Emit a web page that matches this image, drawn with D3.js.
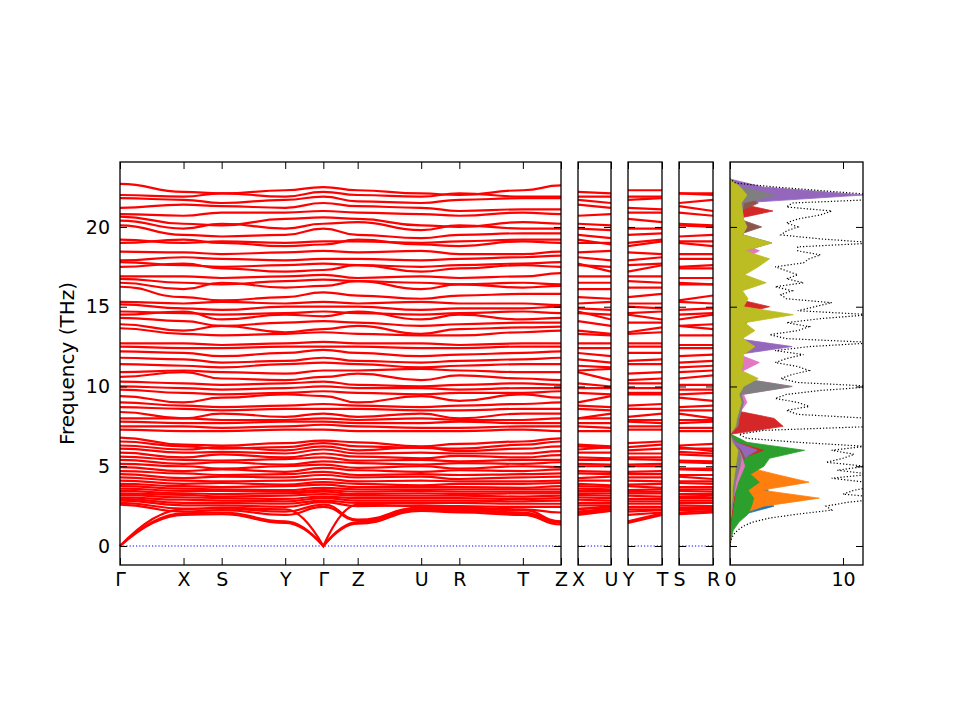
<!DOCTYPE html>
<html>
<head>
<meta charset="utf-8">
<script src="https://cdn.jsdelivr.net/npm/d3@7"></script>
<style>
  body { margin: 0; background: #fff; }
  text { font-family: "DejaVu Sans", sans-serif; }
</style>
</head>
<body>
<script>

// ---- band path (distance along path, a* = 1) ----
var kLabels = ['Γ', 'X', 'S', 'Y', 'Γ', 'Z', 'U', 'R', 'T', 'Z'];
var kDist   = [0, 1.0, 1.6, 2.6, 3.2, 3.74, 4.74, 5.34, 6.34, 6.94];

// short side paths: index of start / end point in the main path
var sideLabels = [['X', 'U'], ['Y', 'T'], ['S', 'R']];
var sideFrom   = [1, 3, 2];
var sideTo     = [6, 8, 7];

// band frequencies (THz) at  Γ  X  S  Y  Γ  Z  U  R  T  Z
var bands = [
  [22.7, 22.2, 22.1, 22.3, 22.5, 22.3, 22.1, 22.0, 22.3, 22.6],
  [22.0, 21.9, 22.1, 21.9, 22.2, 22.0, 21.9, 22.1, 21.9, 21.9],
  [21.8, 21.7, 21.5, 21.7, 21.9, 21.6, 21.5, 21.7, 21.8, 21.8],
  [21.2, 21.4, 21.3, 21.2, 21.5, 21.3, 21.2, 21.0, 21.1, 21.1],
  [20.8, 20.7, 20.9, 20.9, 21.0, 20.9, 20.8, 20.7, 20.9, 20.8],
  [20.65, 20.2, 20.1, 20.5, 20.6, 20.5, 20.1, 20.0, 20.3, 20.2],
  [20.4, 19.9, 20.2, 19.9, 20.2, 20.3, 19.8, 20.1, 19.9, 19.9],
  [20.1, 19.5, 19.4, 19.5, 19.9, 19.5, 19.3, 19.5, 19.6, 19.6],
  [19.2, 19.0, 19.1, 19.0, 19.1, 19.1, 19.0, 19.1, 19.2, 19.2],
  [19.0, 19.2, 19.0, 18.8, 18.9, 19.2, 18.9, 18.8, 19.1, 19.0],
  [18.45, 18.4, 18.3, 18.4, 18.5, 18.4, 18.5, 18.3, 18.3, 18.45],
  [17.9, 18.1, 18.0, 17.9, 18.0, 18.0, 17.9, 18.0, 18.1, 18.2],
  [17.8, 17.6, 17.5, 17.6, 17.7, 17.6, 17.5, 17.6, 17.7, 17.8],
  [17.5, 17.7, 17.4, 17.2, 17.3, 17.6, 17.2, 17.4, 17.6, 17.5],
  [16.9, 16.9, 16.8, 16.9, 17.0, 16.8, 16.9, 16.8, 16.9, 17.1],
  [16.75, 16.5, 16.4, 16.6, 16.7, 16.6, 16.5, 16.4, 16.5, 16.4],
  [16.5, 16.1, 16.5, 16.2, 16.3, 16.6, 16.1, 16.4, 16.2, 16.3],
  [16.25, 15.6, 15.4, 15.6, 15.9, 15.7, 15.5, 15.7, 15.8, 15.8],
  [15.3, 15.2, 15.3, 15.2, 15.3, 15.2, 15.3, 15.2, 15.2, 15.1],
  [15.15, 14.9, 14.8, 15.0, 15.0, 15.0, 14.8, 14.9, 14.9, 15.0],
  [14.7, 14.6, 14.5, 14.6, 14.7, 14.6, 14.5, 14.6, 14.7, 14.6],
  [14.5, 14.7, 14.2, 14.5, 14.4, 14.7, 14.2, 14.5, 14.2, 14.3],
  [14.3, 14.1, 13.8, 14.0, 14.1, 14.0, 13.8, 13.9, 14.0, 14.0],
  [13.9, 13.5, 13.8, 13.4, 13.6, 13.8, 13.3, 13.6, 13.7, 13.75],
  [13.65, 13.3, 13.2, 13.3, 13.4, 13.3, 13.2, 13.2, 13.4, 13.5],
  [12.7, 12.7, 12.6, 12.7, 12.8, 12.7, 12.7, 12.6, 12.7, 12.7],
  [12.5, 12.4, 12.4, 12.5, 12.5, 12.5, 12.4, 12.4, 12.5, 12.5],
  [12.2, 12.1, 11.9, 12.1, 12.3, 12.1, 11.9, 12.0, 12.1, 12.2],
  [11.8, 11.7, 11.5, 11.6, 11.8, 11.6, 11.5, 11.6, 11.7, 11.8],
  [11.4, 11.3, 11.2, 11.4, 11.5, 11.4, 11.2, 11.3, 11.4, 11.4],
  [10.9, 11.0, 10.9, 10.8, 11.0, 11.0, 11.1, 11.0, 10.9, 10.9],
  [10.6, 10.9, 10.5, 10.4, 10.6, 10.8, 10.4, 10.7, 10.5, 10.4],
  [10.3, 10.2, 10.1, 10.2, 10.3, 10.1, 10.0, 10.1, 10.2, 10.1],
  [10.0, 9.9, 9.8, 9.9, 10.0, 9.9, 9.9, 9.8, 9.9, 9.9],
  [9.8, 9.6, 9.5, 9.6, 9.7, 9.6, 9.5, 9.6, 9.6, 9.7],
  [9.4, 9.0, 9.3, 9.5, 9.4, 9.0, 9.4, 9.1, 9.5, 9.3],
  [9.0, 8.8, 8.7, 8.8, 8.9, 8.8, 8.7, 8.8, 8.9, 9.0],
  [8.7, 8.6, 8.5, 8.6, 8.6, 8.6, 8.5, 8.5, 8.6, 8.6],
  [8.4, 8.0, 8.3, 8.1, 8.3, 8.1, 8.3, 8.0, 8.3, 8.3],
  [8.0, 8.0, 7.9, 7.9, 8.0, 7.9, 8.0, 7.9, 7.9, 8.0],
  [7.8, 7.7, 7.7, 7.8, 7.8, 7.7, 7.7, 7.8, 7.7, 7.7],
  [7.5, 7.5, 7.4, 7.5, 7.6, 7.5, 7.4, 7.4, 7.5, 7.5],
  [7.3, 7.2, 7.2, 7.3, 7.3, 7.2, 7.2, 7.2, 7.3, 7.2],
  [6.8, 6.35, 6.3, 6.45, 6.6, 6.5, 6.25, 6.4, 6.55, 6.75],
  [6.55, 6.25, 6.1, 6.2, 6.45, 6.25, 6.15, 6.1, 6.35, 6.55],
  [6.3, 6.05, 6.2, 6.0, 6.25, 6.0, 6.2, 5.95, 6.1, 6.25],
  [6.1, 5.85, 5.9, 5.8, 6.05, 5.8, 5.85, 5.8, 5.8, 5.95],
  [5.85, 5.55, 5.75, 5.55, 5.8, 5.6, 5.5, 5.65, 5.55, 5.7],
  [5.6, 5.4, 5.35, 5.45, 5.55, 5.35, 5.4, 5.3, 5.4, 5.4],
  [5.4, 5.15, 5.25, 5.1, 5.3, 5.2, 5.1, 5.2, 5.15, 5.25],
  [5.15, 5.0, 4.85, 5.0, 5.1, 4.9, 5.0, 4.85, 5.0, 4.95],
  [4.95, 4.7, 4.8, 4.65, 4.9, 4.75, 4.65, 4.75, 4.7, 4.8],
  [4.7, 4.55, 4.45, 4.5, 4.65, 4.45, 4.5, 4.45, 4.5, 4.55],
  [4.5, 4.25, 4.35, 4.3, 4.45, 4.3, 4.35, 4.2, 4.3, 4.35],
  [4.3, 4.1, 4.05, 4.1, 4.2, 4.05, 4.1, 4.05, 4.05, 4.1],
  [4.1, 3.9, 3.95, 3.85, 4.0, 3.9, 3.8, 3.9, 3.9, 3.95],
  [3.9, 3.75, 3.7, 3.75, 3.85, 3.7, 3.7, 3.7, 3.65, 3.75],
  [3.75, 3.6, 3.55, 3.5, 3.65, 3.55, 3.55, 3.55, 3.55, 3.55],
  [3.6, 3.45, 3.45, 3.4, 3.5, 3.4, 3.45, 3.4, 3.4, 3.4],
  [3.45, 3.3, 3.25, 3.3, 3.4, 3.25, 3.3, 3.25, 3.3, 3.3],
  [3.3, 3.2, 3.1, 3.15, 3.25, 3.15, 3.15, 3.15, 3.1, 3.15],
  [3.2, 3.05, 3.0, 2.95, 3.1, 3.0, 3.0, 3.0, 2.95, 3.0],
  [3.05, 2.9, 2.85, 2.8, 3.0, 2.85, 2.85, 2.85, 2.8, 2.85],
  [2.95, 2.7, 2.7, 2.65, 2.85, 2.7, 2.7, 2.7, 2.65, 2.65],
  [2.85, 2.55, 2.55, 2.45, 2.75, 2.5, 2.55, 2.5, 2.45, 2.45],
  [2.7, 2.35, 2.35, 2.15, 2.6, 1.65, 2.4, 2.35, 2.25, 1.55],
  [2.6, 2.15, 2.25, 1.95, 2.45, 1.6, 2.35, 2.3, 2.1, 1.5],
  [0, 2.3, 2.4, 2.3, 0, 2.6, 2.5, 2.4, 2.3, 2.1],
  [0, 2.05, 2.1, 1.55, 0, 1.5, 2.3, 2.2, 2.05, 1.45],
  [0, 1.95, 2.0, 1.45, 0, 1.4, 2.2, 2.1, 1.95, 1.35]
];

// ---- phonon DOS ----
var dosFreq = [0, 0.25, 0.5, 0.75, 1, 1.25, 1.5, 1.75, 2, 2.25, 2.5, 2.75, 3, 3.25, 3.5, 3.75,
  4, 4.25, 4.5, 4.75, 5, 5.25, 5.5, 5.75, 6, 6.25, 6.5, 6.75, 7, 7.25, 7.5, 7.75,
  8, 8.25, 8.5, 8.75, 9, 9.25, 9.5, 9.75, 10, 10.25, 10.5, 10.75, 11, 11.25, 11.5, 11.75,
  12, 12.25, 12.5, 12.75, 13, 13.25, 13.5, 13.75, 14, 14.25, 14.5, 14.75, 15, 15.25, 15.5, 15.75,
  16, 16.25, 16.5, 16.75, 17, 17.25, 17.5, 17.75, 18, 18.25, 18.5, 18.75, 19, 19.25, 19.5, 19.75,
  20, 20.25, 20.5, 20.75, 21, 21.25, 21.5, 21.75, 22, 22.25, 22.5, 22.75, 23];
var dosTotal = [0, 0.05, 0.15, 0.35, 0.7, 1.2, 2.0, 3.5, 6.0, 9.0, 8.5, 10.5, 14, 10, 11, 13,
  12, 9, 12.5, 9.5, 12, 8.5, 10, 11, 9, 12, 6, 1.5, 0.8, 3, 13, 12,
  12.5, 6, 5, 7, 6, 4, 5, 8, 13, 6, 4.5, 5.5, 7, 6, 4, 5,
  6.5, 4, 7, 13, 5, 3.5, 6, 7, 5, 8, 12.5, 6, 7.5, 9, 5, 4.5,
  5.5, 4, 6.5, 5, 6, 5, 4, 6.5, 7, 8, 6, 6, 13, 8, 4.5, 5,
  6, 5, 6, 8, 9, 5, 5.5, 14, 13, 8.5, 4, 0.5, 0];

// partial DOS on a coarser grid
var pdosFreq = [0, 0.5, 1, 1.5, 2, 2.5, 3, 3.5, 4, 4.5, 5, 5.5, 6, 6.5, 7, 7.5,
  8, 8.5, 9, 9.5, 10, 10.5, 11, 11.5, 12, 12.5, 13, 13.5, 14, 14.5, 15, 15.5,
  16, 16.5, 17, 17.5, 18, 18.5, 19, 19.5, 20, 20.5, 21, 21.5, 22, 22.5, 23];
var pdosColors = ['#1f77b4', '#ff7f0e', '#2ca02c', '#d62728', '#9467bd',
                  '#8c564b', '#e377c2', '#7f7f7f', '#bcbd22'];
var pdos = [
  [0,0.05,0.2,0.5,1.3,3.9,2.6,3.4,1.6,1.0,0.5,0.4,0.3,0.1,0,0.1,0.1,0.1,0.1,0.1,0.1,0.1,0.1,0.1,0.1,0.1,0.1,0.1,0.1,0.1,0.1,0.1,0.1,0.1,0.1,0.1,0.1,0.1,0.1,0.1,0.1,0.1,0.1,0.1,0.1,0.05,0],
  [0,0.05,0.2,0.4,1.0,3.0,7.9,2.8,7.0,4.0,1.2,0.8,0.6,0.2,0,0.1,0.1,0.1,0.1,0.1,0.1,0.1,0.1,0.1,0.1,0.1,0.1,0.1,0.1,0.1,0.1,0.1,0.1,0.1,0.1,0.1,0.1,0.1,0.1,0.1,0.1,0.1,0.1,0.1,0.1,0.05,0],
  [0,0.1,0.3,0.8,1.6,1.9,2.1,1.6,2.6,1.8,3.0,3.5,6.6,1.5,0.1,0.3,0.3,0.2,0.3,0.2,0.3,0.2,0.2,0.2,0.2,0.2,0.2,0.2,0.2,0.3,0.2,0.2,0.2,0.2,0.2,0.2,0.2,0.2,0.3,0.2,0.2,0.2,0.2,0.2,0.3,0.2,0],
  [0,0,0,0.1,0.2,0.3,0.4,0.5,0.6,0.7,0.9,1.0,3.0,0.5,0,4.7,3.9,0.4,0.5,0.4,0.6,0.4,0.4,0.5,0.4,0.5,0.4,0.4,0.5,0.6,3.5,0.5,0.4,0.5,0.6,1.9,0.5,0.6,0.5,0.4,0.6,0.5,3.8,0.6,0.7,0.5,0],
  [0,0,0,0,0.1,0.2,0.3,0.4,0.6,0.9,1.1,1.2,2.4,0.5,0,0.4,0.5,0.6,0.6,0.5,0.8,0.5,0.5,0.6,0.6,5.5,0.6,0.5,0.6,0.8,0.6,0.5,0.6,0.5,0.6,0.5,0.7,0.6,0.7,0.6,0.8,1.0,0.8,0.9,11.8,2.9,0],
  [0,0,0,0,0.1,0.2,0.3,0.4,0.6,0.8,1.0,1.3,1.0,0.3,0,0.5,0.5,0.8,0.6,0.5,0.6,0.5,0.5,0.5,0.5,0.6,0.5,0.5,0.6,0.6,0.6,0.5,0.6,0.5,0.6,0.5,0.6,0.6,0.8,0.7,2.8,0.8,1.0,2.5,1.2,0.8,0],
  [0,0,0,0,0.1,0.2,0.3,0.5,0.7,1.0,1.3,1.1,0.8,0.3,0,0.6,0.7,1.0,1.5,1.2,5.5,1.0,1.2,2.6,0.8,1.0,1.2,0.8,0.9,1.0,0.8,0.8,0.9,1.0,0.9,0.8,1.2,2.6,1.0,0.8,1.0,0.8,0.8,0.9,1.0,0.7,0],
  [0,0,0,0,0.1,0.2,0.3,0.4,0.5,0.7,0.9,1.0,0.8,0.3,0,0.7,0.8,1.0,1.2,1.0,5.5,1.1,1.0,1.2,1.0,1.2,1.1,1.0,1.5,1.2,1.0,1.1,1.0,1.2,1.0,1.1,1.2,1.3,3.7,1.2,1.0,1.2,1.1,1.2,4.0,1.0,0],
  [0,0,0,0,0.1,0.1,0.2,0.2,0.3,0.4,0.5,0.6,0.7,0.2,0,0.5,0.6,0.8,1.0,0.8,1.2,2.5,1.0,1.2,1.2,2.2,1.1,2.2,1.3,5.6,1.2,1.6,1.1,3.2,1.3,2.5,3.5,1.3,3.7,1.1,1.5,1.2,1.1,1.0,1.5,0.9,0]
];

var freqTicks = [0, 5, 10, 15, 20];
var dosTicks  = [0, 10];


// ---- layout ----
var width = 960, height = 720;
var plotTop = 162, plotBottom = 565;
var mainX  = [120, 561];
var sideX  = [[578, 611], [628, 662], [679, 713]];
var dosX   = [730, 863];
var tickLen = 7;
var fontSize = 19;
var bandWidth = 2.2;

var svg = d3.select("body").append("svg")
    .attr("width", width)
    .attr("height", height);

var yScale = d3.scaleLinear().domain([-1.19, 24.07]).range([plotBottom, plotTop]);

// draw the four spines with inward ticks on every side
function frame(xs, xTicks, xFmt, showY) {
    var g = svg.append("g");
    g.append("g")
        .attr("transform", "translate(0," + plotBottom + ")")
        .call(d3.axisBottom(xs).tickValues(xTicks).tickSize(-tickLen)
            .tickPadding(8).tickFormat(xFmt));
    g.append("g")
        .attr("transform", "translate(0," + plotTop + ")")
        .call(d3.axisTop(xs).tickValues(xTicks).tickSize(-tickLen).tickFormat(""));
    g.append("g")
        .attr("transform", "translate(" + xs.range()[0] + ",0)")
        .call(d3.axisLeft(yScale).tickValues(freqTicks).tickSize(-tickLen)
            .tickPadding(10).tickFormat(showY ? d3.format("d") : ""));
    g.append("g")
        .attr("transform", "translate(" + xs.range()[1] + ",0)")
        .call(d3.axisRight(yScale).tickValues(freqTicks).tickSize(-tickLen).tickFormat(""));
    g.selectAll(".domain").remove();
    g.selectAll(".tick line").attr("stroke", "#000").attr("stroke-width", 1);
    g.selectAll(".tick text").attr("fill", "#000")
        .style("font-size", fontSize + "px")
        .style("font-family", "'DejaVu Sans', sans-serif");
    g.append("rect")
        .attr("x", xs.range()[0]).attr("y", plotTop)
        .attr("width", xs.range()[1] - xs.range()[0])
        .attr("height", plotBottom - plotTop)
        .attr("fill", "none").attr("stroke", "#000").attr("stroke-width", 1.3);
}

// zero line
function zeroLine(xs) {
    svg.append("line")
        .attr("x1", xs.range()[0]).attr("x2", xs.range()[1])
        .attr("y1", yScale(0)).attr("y2", yScale(0))
        .attr("stroke", "#0000ff").attr("stroke-width", 1)
        .attr("stroke-dasharray", "1.2,2");
}

// one segment between two k-points: flat at both ends,
// straight-ish out of an acoustic zero at Γ
function segment(p, X0, v0, X1, v1) {
    var Y0 = yScale(v0), Y1 = yScale(v1);
    if (v0 === 0)
        p.quadraticCurveTo(X0 + 0.55 * (X1 - X0), Y1, X1, Y1);
    else if (v1 === 0)
        p.quadraticCurveTo(X1 - 0.55 * (X1 - X0), Y0, X1, Y1);
    else {
        var xm = (X0 + X1) / 2;
        p.bezierCurveTo(xm, Y0, xm, Y1, X1, Y1);
    }
}

// ---- main band panel ----
var xMain = d3.scaleLinear().domain([0, kDist[kDist.length - 1]]).range(mainX);

zeroLine(xMain);

svg.append("g").selectAll("path")
    .data(bands)
    .enter().append("path")
    .attr("fill", "none")
    .attr("stroke", "#ff0000")
    .attr("stroke-width", bandWidth)
    .attr("d", function(b) {
        var p = d3.path();
        p.moveTo(xMain(kDist[0]), yScale(b[0]));
        for (var i = 1; i < kDist.length; i++)
            segment(p, xMain(kDist[i - 1]), b[i - 1], xMain(kDist[i]), b[i]);
        return p.toString();
    });

frame(xMain, kDist, function(d, i) { return kLabels[i]; }, true);

// ---- side panels ----
sideX.forEach(function(range, s) {
    var xs = d3.scaleLinear().domain([0, 1]).range(range);
    zeroLine(xs);
    svg.append("g").selectAll("path")
        .data(bands)
        .enter().append("path")
        .attr("fill", "none")
        .attr("stroke", "#ff0000")
        .attr("stroke-width", bandWidth)
        .attr("d", function(b) {
            var p = d3.path();
            p.moveTo(xs(0), yScale(b[sideFrom[s]]));
            p.lineTo(xs(1), yScale(b[sideTo[s]]));
            return p.toString();
        });
    frame(xs, [0, 1], function(d, i) { return sideLabels[s][i]; }, false);
});

// ---- DOS panel ----
var xDos = d3.scaleLinear().domain([0, 11.77]).range(dosX);

svg.append("defs").append("clipPath")
    .attr("id", "clipdos")
    .append("rect")
    .attr("x", dosX[0]).attr("y", plotTop)
    .attr("width", dosX[1] - dosX[0]).attr("height", plotBottom - plotTop);

var dosG = svg.append("g").attr("clip-path", "url(#clipdos)");

var area = d3.area()
    .y(function(d, i) { return yScale(pdosFreq[i]); })
    .x0(xDos(0))
    .x1(function(d) { return xDos(d); });

pdos.forEach(function(series, k) {
    dosG.append("path")
        .datum(series)
        .attr("fill", pdosColors[k])
        .attr("stroke", pdosColors[k])
        .attr("stroke-width", 0.8)
        .attr("d", area);
});

var totalLine = d3.line()
    .x(function(d) { return xDos(d); })
    .y(function(d, i) { return yScale(dosFreq[i]); });

dosG.append("path")
    .datum(dosTotal)
    .attr("fill", "none")
    .attr("stroke", "#000")
    .attr("stroke-width", 1.2)
    .attr("stroke-dasharray", "1.2,2")
    .attr("d", totalLine);

frame(xDos, dosTicks, d3.format("d"), false);

// y axis label
svg.append("text")
    .attr("transform", "translate(67," + ((plotTop + plotBottom) / 2) + ") rotate(-90)")
    .attr("dy", "0.35em")
    .style("text-anchor", "middle")
    .style("font-size", "20px")
    .attr("fill", "#000")
    .text("Frequency (THz)");

</script>
</body>
</html>
